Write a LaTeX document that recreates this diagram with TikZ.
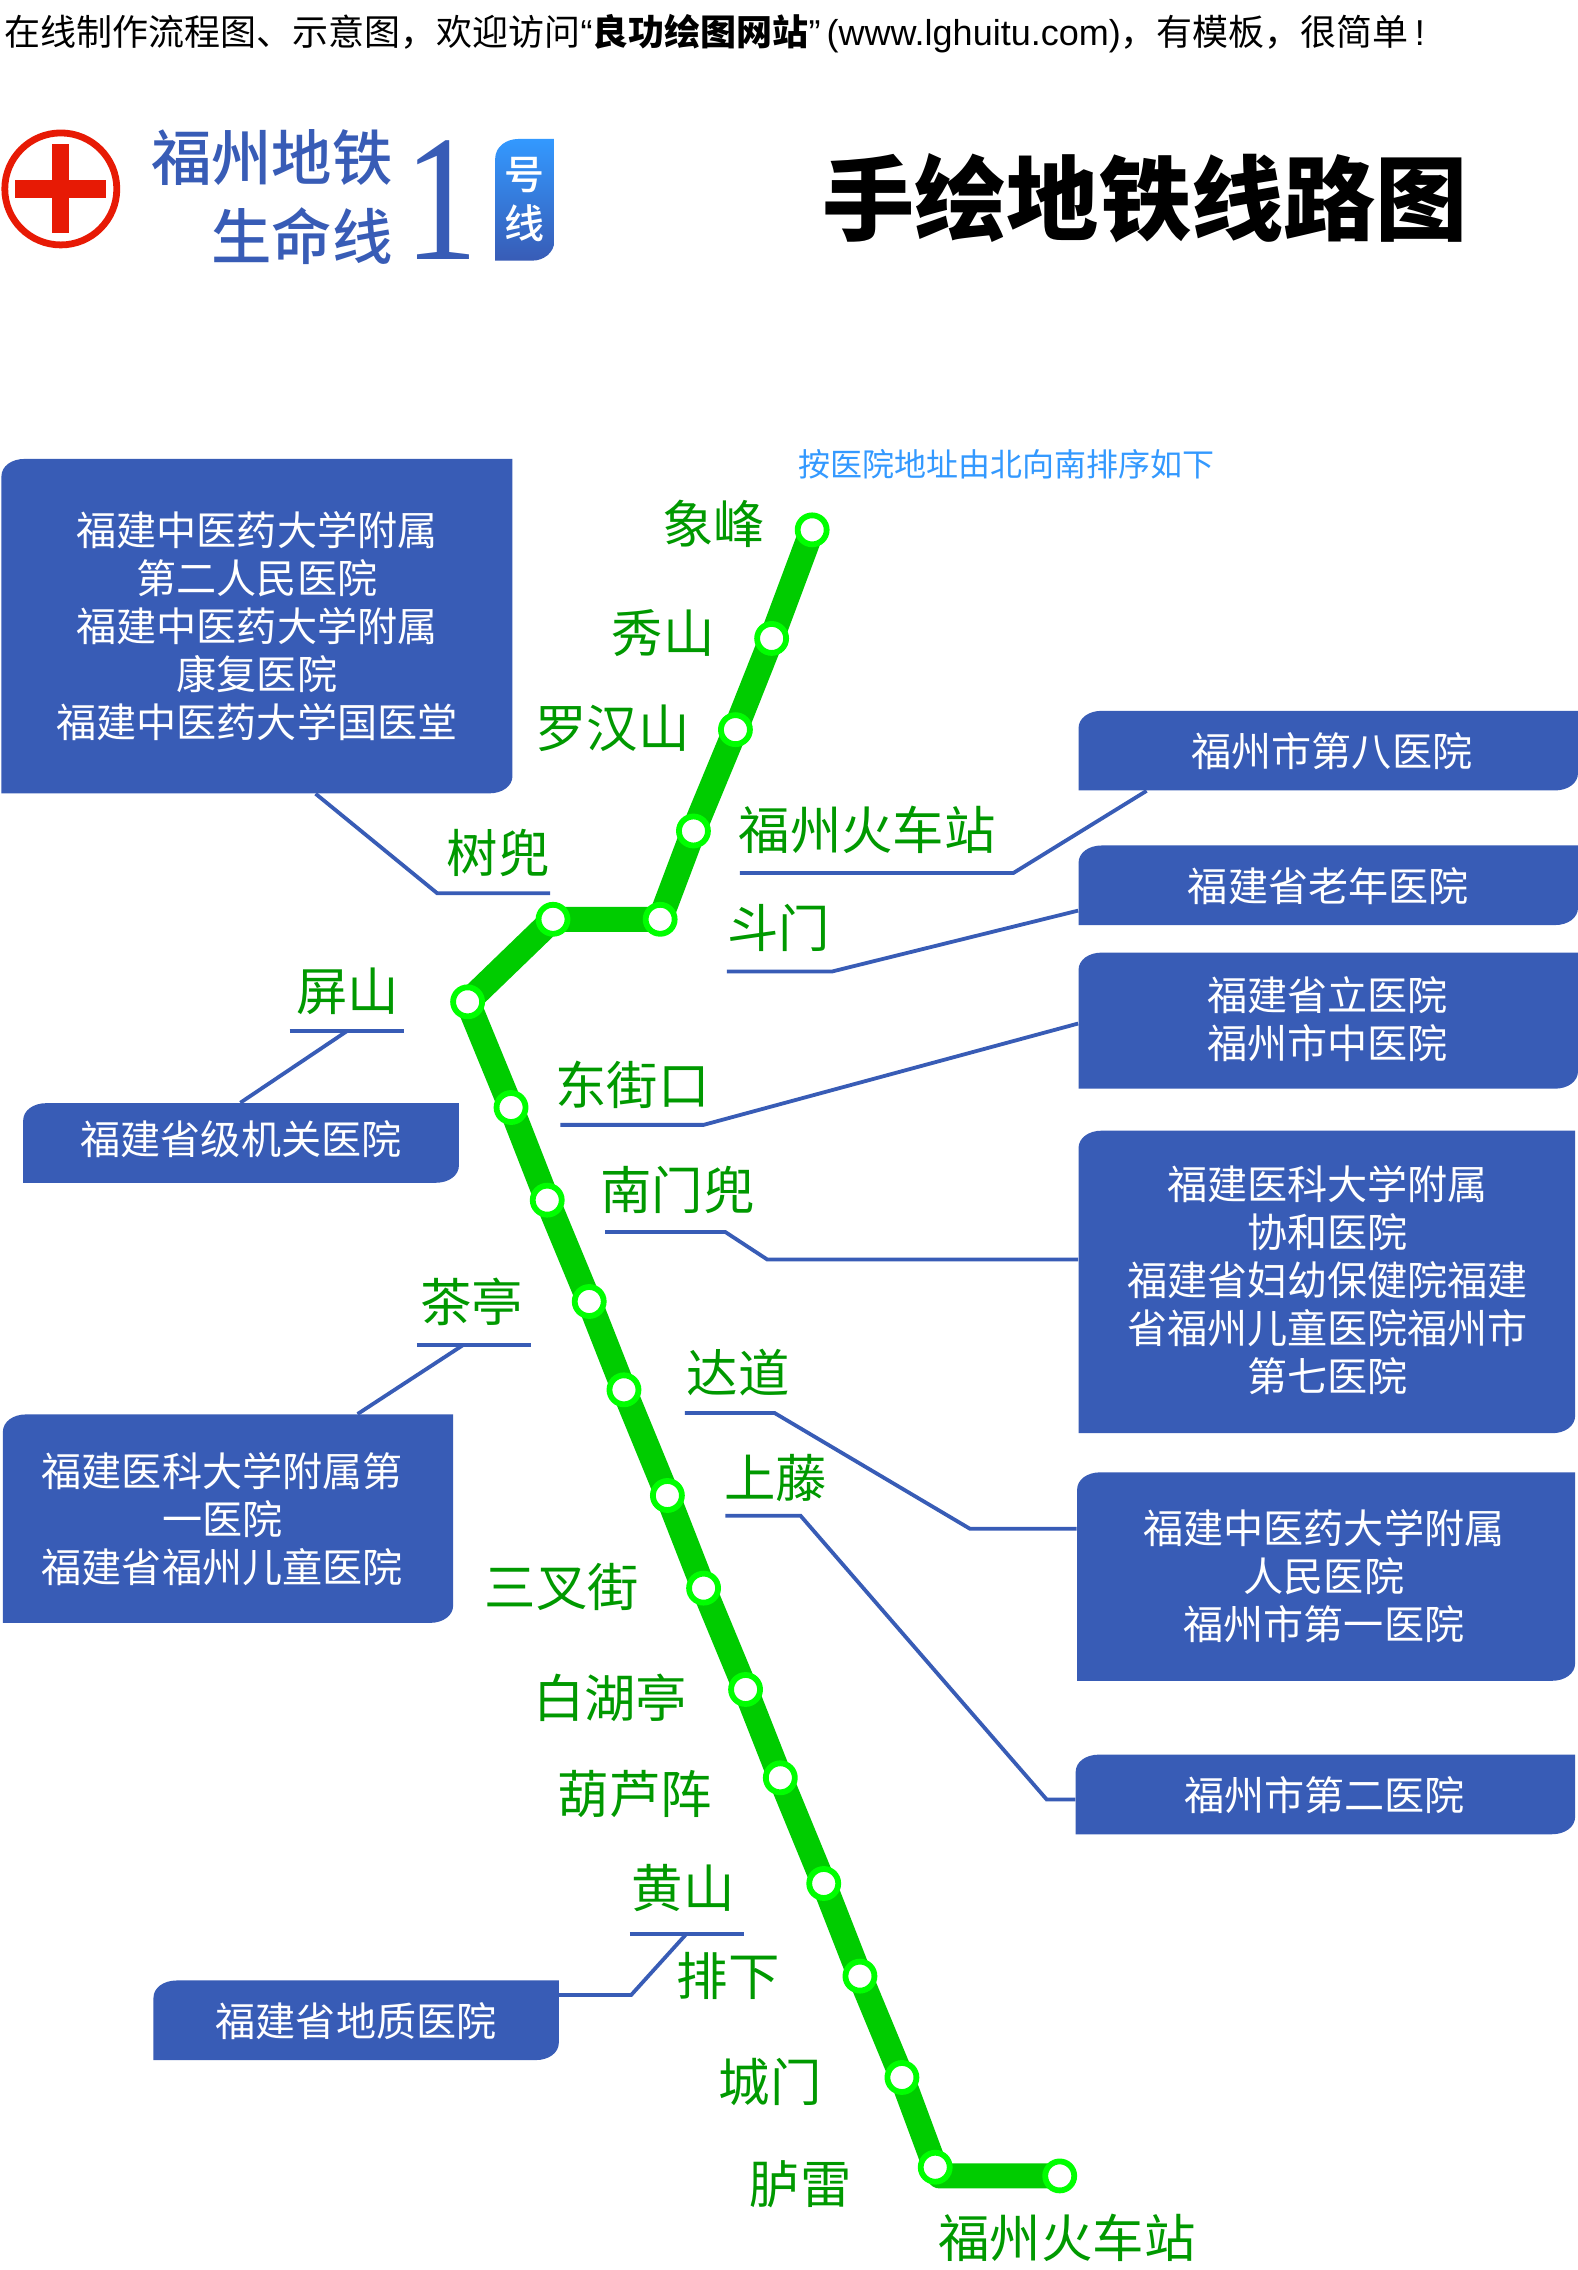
\documentclass[tikz,border=0pt]{standalone}
\usepackage{fontspec}
\setmainfont{Noto Sans CJK SC}
\newfontfamily\latfont{Liberation Sans}
\newfontfamily\serfont{Liberation Serif}
\newfontfamily\medfont{Noto Sans CJK SC Medium}
\newfontfamily\blkfont{Noto Sans CJK SC Black}
\usetikzlibrary{calc}
\definecolor{boxblue}{HTML}{385CB6}
\definecolor{labelgreen}{HTML}{009900}
\definecolor{trackgreen}{HTML}{00CC00}
\definecolor{ringgreen}{HTML}{00FF00}
\definecolor{skyblue}{HTML}{3399FF}
\definecolor{crossred}{HTML}{E71A05}
\tikzset{
  track/.style={draw=trackgreen,line width=12.5pt,line join=round},
  stationdot/.style={circle,draw=ringgreen,fill=white,line width=2.9pt,minimum size=14.5pt,inner sep=0pt},
  stationlabel/.style={text=labelgreen,font=\fontsize{25.7}{30}\selectfont,inner sep=0pt},
  leader/.style={draw=boxblue,line width=1.9pt},
  boxtext/.style={text=white,font=\fontsize{20.05}{24}\selectfont,align=center,inner sep=0pt},
  boxfill/.style={fill=boxblue},
  boxanchor/.style={inner sep=0pt},
}
% name, x1, y1, x2, y2, text centre x, text centre y, text
\newcommand{\hospbox}[8]{%
  \fill[boxfill] (#2+16,#3) -- (#4,#3) -- (#4,#5-12)
    .. controls (#4,#5-5) and (#4-7,#5) .. (#4-16,#5) -- (#2,#5) -- (#2,#3+12)
    .. controls (#2,#3+5) and (#2+7,#3) .. (#2+16,#3) -- cycle;
  \pgfmathsetmacro{\bw}{(#4-#2)*0.72385}
  \pgfmathsetmacro{\bh}{(#5-#3)*0.72385}
  \node[boxanchor,minimum width=\bw pt,minimum height=\bh pt] (#1) at ({(#2+#4)/2},{(#3+#5)/2}) {};
  \node[boxtext] (#1t) at (#6,#7) {#8};
}
\begin{document}
\begin{tikzpicture}[x=0.72385pt,y=-0.72385pt]
\useasboundingbox (0,0) rectangle (1090,1568);
\fill[white] (0,0) rectangle (1090,1568);

% top banner
\node[anchor=west,inner sep=0pt,font=\fontsize{18}{22}\selectfont] (banner) at (3,23.5)
  {在线制作流程图、示意图，欢迎访问{\latfont “}{\bfseries 良功绘图网站}{\latfont ”\hspace{3pt}(www.lghuitu.com)}，有模板，很简单\hspace{3pt}{\latfont !}};

% logo
\node[circle,draw=crossred,line width=3.4pt,minimum size=56pt,inner sep=0pt] (ring) at (42,130.5) {};
\fill[crossred] (10.5,124) rectangle (73.5,137);
\fill[crossred] (36,99.5) rectangle (48,161);
\node[anchor=east,inner sep=0pt,text=boxblue,font=\fontsize{30.2}{36}\medfont] (titlea) at (271.5,109) {福州地铁};
\node[anchor=east,inner sep=0pt,text=boxblue,font=\fontsize{30.2}{36}\medfont] (titleb) at (271.5,163) {生命线};
\node[inner sep=0pt,text=boxblue,font=\fontsize{90}{92}\serfont,xscale=0.82] (bigone) at (305,138) {1};
\path[top color=skyblue,bottom color=boxblue] (358,96) -- (383,96) -- (383,166)
  .. controls (383,175) and (375,180) .. (368,180) -- (342,180) -- (342,110)
  .. controls (342,101) and (350,96) .. (358,96) -- cycle;
\node[inner sep=0pt,text=white,font=\fontsize{20}{24}\medfont] (hao) at (362.5,121) {号};
\node[inner sep=0pt,text=white,font=\fontsize{20}{24}\medfont] (xian) at (362.5,154) {线};

\node[inner sep=0pt,font=\fontsize{46.1}{50}\blkfont] (heading) at (791,137) {手绘地铁线路图};
\node[inner sep=0pt,text=skyblue,font=\fontsize{16}{20}\selectfont] (hint) at (695,321) {按医院地址由北向南排序如下};

% hospital boxes
\hospbox{ba}{1}{317}{354}{548}{177.5}{432.5}{福建中医药大学附属\\第二人民医院\\福建中医药大学附属\\康复医院\\福建中医药大学国医堂}
\hospbox{bb}{745}{491}{1090}{546}{920}{519}{福州市第八医院}
\hospbox{bc}{745}{584}{1090}{639}{917.5}{612}{福建省老年医院}
\hospbox{bd}{745}{658}{1090}{752}{917}{704}{福建省立医院\\福州市中医院}
\hospbox{be}{745}{781}{1088}{990}{917}{884}{福建医科大学附属\\协和医院\\福建省妇幼保健院福建\\省福州儿童医院福州市\\第七医院}
\hospbox{bf}{744}{1017}{1088}{1161}{914.5}{1089}{福建中医药大学附属\\人民医院\\福州市第一医院}
\hospbox{bg}{743}{1212}{1088}{1267}{915}{1240}{福州市第二医院}
\hospbox{bh}{106}{1368}{386}{1423}{246}{1396}{福建省地质医院}
\hospbox{bi}{16}{762}{317}{817}{166.5}{787}{福建省级机关医院}
\hospbox{bj}{2}{977}{313}{1121}{153.5}{1049.5}{福建医科大学附属第\\一医院\\福建省福州儿童医院}

% station labels
\node[stationlabel] (la) at (493,362) {象峰};
\node[stationlabel] (lb) at (458,437) {秀山};
\node[stationlabel] (lc) at (423,503) {罗汉山};
\node[stationlabel] (ld) at (599,573) {福州火车站};
\node[stationlabel] (le) at (344,589) {树兜};
\node[stationlabel] (lf) at (538,641) {斗门};
\node[stationlabel] (lg) at (240,685) {屏山};
\node[stationlabel] (lh) at (437,749) {东街口};
\node[stationlabel] (li) at (468,822) {南门兜};
\node[stationlabel] (lj) at (326,899) {茶亭};
\node[stationlabel] (lk) at (510,948) {达道};
\node[stationlabel] (ll) at (536,1021) {上藤};
\node[stationlabel] (lm) at (388,1096) {三叉街};
\node[stationlabel] (ln) at (421.5,1173) {白湖亭};
\node[stationlabel] (lo) at (438.5,1239) {葫芦阵};
\node[stationlabel] (lp) at (472,1304) {黄山};
\node[stationlabel] (lq) at (503,1365) {排下};
\node[stationlabel] (lr) at (532,1438) {城门};
\node[stationlabel] (ls) at (553,1509) {胪雷};
\node[stationlabel] (lt) at (737,1546) {福州火车站};

% leader coordinates
\coordinate (ca1) at (218,0); \coordinate (ca2) at (302,617); \coordinate (ca3) at (380,617);
\coordinate (cb1) at (792,0); \coordinate (cb2) at (700,603); \coordinate (cb3) at (511,603);
\coordinate (cc1) at (0,629); \coordinate (cc2) at (575,671); \coordinate (cc3) at (502,671);
\coordinate (cd1) at (0,707); \coordinate (cd2) at (486,777); \coordinate (cd3) at (387,777);
\coordinate (ce1) at (0,870); \coordinate (ce2) at (530,870); \coordinate (ce3) at (501,851); \coordinate (ce4) at (418,851);
\coordinate (cf1) at (0,1056); \coordinate (cf2) at (670,1056); \coordinate (cf3) at (535,976); \coordinate (cf4) at (473,976);
\coordinate (cg1) at (0,1243); \coordinate (cg2) at (723,1243); \coordinate (cg3) at (553,1047); \coordinate (cg4) at (501,1047);
\coordinate (ch1) at (0,1378); \coordinate (ch2) at (436,1378); \coordinate (ch3) at (474,1336); \coordinate (ch4) at (435,1336); \coordinate (ch5) at (514,1336);
\coordinate (ci1) at (166,0); \coordinate (ci2) at (240,712); \coordinate (ci3) at (200,712); \coordinate (ci4) at (279,712);
\coordinate (cj1) at (247,0); \coordinate (cj2) at (320,929); \coordinate (cj3) at (288,929); \coordinate (cj4) at (367,929);

\draw[leader] (ca1 |- ba.south) -- (ca2) -- (ca3);
\draw[leader] (cb1 |- bb.south) -- (cb2) -- (cb3);
\draw[leader] (bc.west |- cc1) -- (cc2) -- (cc3);
\draw[leader] (bd.west |- cd1) -- (cd2) -- (cd3);
\draw[leader] (be.west |- ce1) -- (ce2) -- (ce3) -- (ce4);
\draw[leader] (bf.west |- cf1) -- (cf2) -- (cf3) -- (cf4);
\draw[leader] (bg.west |- cg1) -- (cg2) -- (cg3) -- (cg4);
\draw[leader] (bh.east |- ch1) -- (ch2) -- (ch3);
\draw[leader] (ch4) -- (ch5);
\draw[leader] (ci1 |- bi.north) -- (ci2);
\draw[leader] (ci3) -- (ci4);
\draw[leader] (cj1 |- bj.north) -- (cj2);
\draw[leader] (cj3) -- (cj4);

% stations
\coordinate (sa) at (561,366);
\coordinate (sb) at (533,441);
\coordinate (sc) at (508,504);
\coordinate (sd) at (479,574);
\coordinate (se) at (456,635);
\coordinate (sf) at (382,635);
\coordinate (sg) at (323,692);
\coordinate (sh) at (353,765);
\coordinate (si) at (378,829);
\coordinate (sj) at (407,899);
\coordinate (sk) at (431,960);
\coordinate (sl) at (461,1033);
\coordinate (sm) at (486,1097);
\coordinate (sn) at (515,1167);
\coordinate (so) at (539,1228);
\coordinate (sp) at (569,1301);
\coordinate (sq) at (594,1365);
\coordinate (sr) at (623,1435);
\coordinate (ss) at (646,1497);
\coordinate (turn) at (649,1503);
\coordinate (st) at (732,1503);
\draw[track] (sa) -- (sb) -- (sc) -- (sd) -- (se) -- (sf) -- (sg) -- (sh) -- (si) -- (sj) -- (sk) -- (sl) -- (sm) -- (sn) -- (so) -- (sp) -- (sq) -- (sr) -- (ss) -- (turn) -- (st);
\foreach \s in {sa,sb,sc,sd,se,sf,sg,sh,si,sj,sk,sl,sm,sn,so,sp,sq,sr,ss,st}
  \node[stationdot] (dot\s) at (\s) {};
\end{tikzpicture}
\end{document}
